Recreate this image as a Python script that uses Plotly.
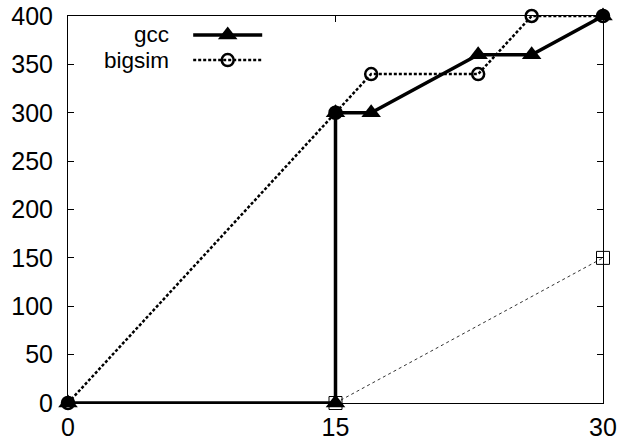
import plotly.graph_objects as go

# series
gcc_x = [0, 15, 15, 17, 23, 26, 30]
gcc_y = [0, 0, 300, 300, 360, 360, 400]

bigsim_x = [0, 15, 17, 23, 26, 30]
bigsim_y = [0, 300, 340, 340, 400, 400]

third_x = [15, 30]
third_y = [0, 150]

x_ticks = [0, 15, 30]
y_ticks = [0, 50, 100, 150, 200, 250, 300, 350, 400]

FONT = "Liberation Sans, Arial, sans-serif"

GCC_LINE = dict(color="black", width=3.5)
GCC_MARK = dict(symbol="triangle-up", size=17, color="black")
BIG_LINE = dict(color="black", width=2.5, dash="3px,2px")
BIG_MARK = dict(symbol="circle-open", size=12, color="black", line=dict(width=2.5))


def main():
    fig = go.Figure()

    fig.add_trace(go.Scatter(
        x=third_x, y=third_y, mode="lines+markers", cliponaxis=False,
        line=dict(color="#333333", width=1, dash="dot"),
        marker=dict(symbol="square-open", size=13, color="black", line=dict(width=1)),
        showlegend=False))

    fig.add_trace(go.Scatter(
        x=bigsim_x, y=bigsim_y, mode="lines+markers", cliponaxis=False,
        line=BIG_LINE, marker=BIG_MARK, showlegend=False))

    fig.add_trace(go.Scatter(
        x=gcc_x, y=gcc_y, mode="lines+markers", cliponaxis=False,
        line=GCC_LINE, marker=GCC_MARK, showlegend=False))

    # gnuplot-style key: text on the left, sample on the right (overlay axes 0..1)
    x0, x1 = 0.234, 0.363
    xm = (x0 + x1) / 2
    rows = [("gcc", 0.951, GCC_LINE, GCC_MARK),
            ("bigsim", 0.886, BIG_LINE, BIG_MARK)]
    for name, yy, ln, mk in rows:
        fig.add_trace(go.Scatter(x=[x0, x1], y=[yy, yy], mode="lines", line=ln,
                                 xaxis="x2", yaxis="y2", showlegend=False))
        fig.add_trace(go.Scatter(x=[xm], y=[yy], mode="markers", marker=mk,
                                 xaxis="x2", yaxis="y2", showlegend=False))
        fig.add_annotation(x=0.193, y=yy, xref="x2", yref="y2", text=name,
                           showarrow=False, xanchor="right", yanchor="middle",
                           font=dict(family=FONT, size=22.5, color="black"))

    axis = dict(showline=True, linecolor="black", linewidth=1, mirror="ticks",
                ticks="inside", ticklen=6, tickcolor="black", showgrid=False,
                zeroline=False, automargin=False,
                tickfont=dict(family=FONT, size=25, color="black"))

    fig.update_layout(
        width=618, height=444,
        margin=dict(l=68, r=15, t=16, b=41),
        plot_bgcolor="white", paper_bgcolor="white",
        xaxis=dict(axis, range=[0, 30], tickvals=x_ticks, ticklabelstandoff=2),
        yaxis=dict(axis, range=[0, 400], tickvals=y_ticks, ticklabelstandoff=9),
        xaxis2=dict(overlaying="x", range=[0, 1], visible=False),
        yaxis2=dict(overlaying="y", range=[0, 1], visible=False),
    )

    # drop the default page margin so the figure sits at the window corner
    fig.write_html("out.html", config={"displayModeBar": False},
                   post_script="document.body.style.margin='0';")


if __name__ == "__main__":
    main()
